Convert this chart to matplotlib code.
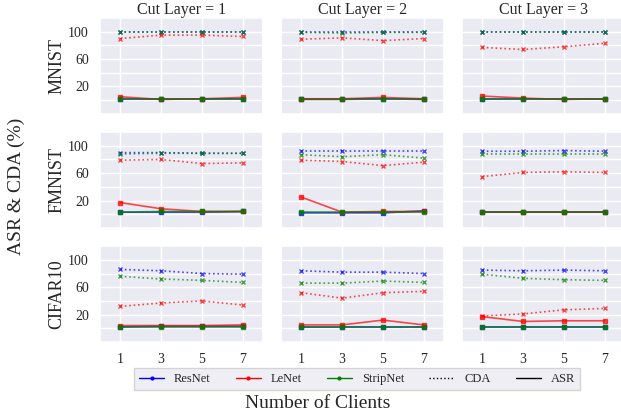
import matplotlib
matplotlib.use("Agg")
import matplotlib.pyplot as plt
import seaborn as sns
from matplotlib.lines import Line2D

sns.set_theme(style="darkgrid")
plt.rcParams['font.family'] = ['Liberation Serif', 'DejaVu Serif']

clients = [1, 3, 5, 7]
datasets = ["MNIST", "FMNIST", "CIFAR10"]
cut_layers = [1, 2, 3]
models = ["ResNet", "LeNet", "StripNet"]
colors = {"ResNet": "blue", "LeNet": "red", "StripNet": "green"}

# cda[dataset][cut layer index][model]
cda = {
    "MNIST": [
        {"ResNet": [99, 99, 99, 99], "LeNet": [90, 95, 95, 93], "StripNet": [99, 99, 99, 99]},
        {"ResNet": [99, 99, 99, 99], "LeNet": [89, 91, 87, 90], "StripNet": [99, 98, 99, 99]},
        {"ResNet": [99, 99, 99, 99], "LeNet": [77, 74, 78, 83], "StripNet": [99, 99, 99, 99]},
    ],
    "FMNIST": [
        {"ResNet": [90, 90, 89, 89], "LeNet": [79, 80, 74, 75], "StripNet": [88, 89, 89, 89]},
        {"ResNet": [92, 92, 92, 92], "LeNet": [79, 77, 71, 76], "StripNet": [87, 84, 87, 82]},
        {"ResNet": [92, 92, 93, 92], "LeNet": [55, 61, 62, 61], "StripNet": [88, 88, 88, 88]},
    ],
    "CIFAR10": [
        {"ResNet": [86, 84, 80, 79], "LeNet": [32, 37, 40, 34], "StripNet": [76, 72, 70, 67]},
        {"ResNet": [84, 82, 82, 80], "LeNet": [52, 44, 52, 54], "StripNet": [66, 66, 69, 67]},
        {"ResNet": [85, 84, 85, 84], "LeNet": [18, 21, 27, 29], "StripNet": [79, 73, 71, 70]},
    ],
}

asr = {
    "MNIST": [
        {"ResNet": [1, 1, 1, 1], "LeNet": [5, 1, 2, 4], "StripNet": [1, 1, 1, 1]},
        {"ResNet": [1, 1, 1, 1], "LeNet": [2, 2, 4, 2], "StripNet": [1, 1, 2, 1]},
        {"ResNet": [1, 1, 1, 1], "LeNet": [6, 3, 1, 2], "StripNet": [1, 1, 1, 1]},
    ],
    "FMNIST": [
        {"ResNet": [3, 3, 3, 4], "LeNet": [17, 8, 4, 4], "StripNet": [3, 4, 4, 4]},
        {"ResNet": [2, 2, 2, 5], "LeNet": [25, 3, 4, 4], "StripNet": [3, 3, 3, 3]},
        {"ResNet": [3, 3, 3, 3], "LeNet": [3, 3, 3, 3], "StripNet": [3, 3, 3, 3]},
    ],
    "CIFAR10": [
        {"ResNet": [2, 3, 3, 3], "LeNet": [4, 4, 4, 5], "StripNet": [2, 2, 2, 2]},
        {"ResNet": [2, 2, 2, 2], "LeNet": [5, 5, 12, 5], "StripNet": [2, 2, 2, 2]},
        {"ResNet": [2, 2, 2, 2], "LeNet": [17, 10, 11, 11], "StripNet": [2, 2, 2, 2]},
    ],
}

fig, axes = plt.subplots(3, 3, figsize=(6.21, 4.17), dpi=100, sharex=True, sharey=True)
fig.subplots_adjust(left=100/621, right=625/621, top=1-18/417, bottom=1-342/417,
                    wspace=0.11, hspace=0.19)

for r, ds in enumerate(datasets):
    for c, cl in enumerate(cut_layers):
        ax = axes[r][c]
        for m in models:
            ax.plot(clients, cda[ds][c][m], linestyle=":", marker="x", markersize=3.5,
                    color=colors[m], alpha=0.7, linewidth=1.2)
            ax.plot(clients, asr[ds][c][m], linestyle="-", marker="s", markersize=3,
                    color=colors[m], alpha=0.7, linewidth=1.2)
        ax.set_xlim(0, 8)
        ax.set_ylim(-20, 120)
        ax.set_xticks(clients)
        ax.set_yticks([0, 20, 40, 60, 80, 100])
        ax.set_yticklabels(["", "20", "", "60", "", "100"])
        ax.tick_params(axis="both", labelsize=10, pad=2)
        if r == 0:
            ax.set_title("Cut Layer = %d" % cl, fontsize=11.5, pad=3)
        if c == 0:
            ax.set_ylabel(ds, fontsize=13, labelpad=2)

fig.text(16/621, 1-186/417, "ASR & CDA (%)", rotation=90, ha="center", va="center", fontsize=14)
fig.text(318/621, 1-403/417, "Number of Clients", ha="center", va="center", fontsize=14)

handles = [Line2D([0], [0], color=colors[m], marker=".", markersize=4, linewidth=1) for m in models]
handles.append(Line2D([0], [0], color="black", linestyle=":", linewidth=1))
handles.append(Line2D([0], [0], color="black", linestyle="-", linewidth=1))
labels = models + ["CDA", "ASR"]
leg = fig.legend(handles, labels, loc="center", bbox_to_anchor=(357/621, 1-379/417), ncol=5,
                 fontsize=9, frameon=True, columnspacing=2.0, handlelength=2.0,
                 borderpad=0.4, fancybox=False)
leg.get_frame().set_facecolor("#EAEAF2")
leg.get_frame().set_edgecolor("#CCCCCC")

fig.savefig("out.png", dpi=100)
